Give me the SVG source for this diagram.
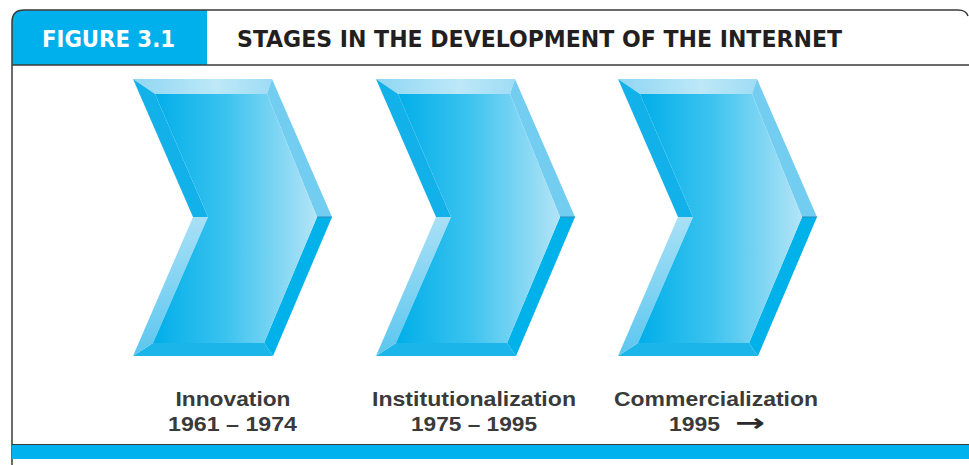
<svg xmlns="http://www.w3.org/2000/svg" width="969" height="465" viewBox="0 0 969 465">
<defs>
<style>
.frame{fill:none;stroke:#3a3a3a;stroke-width:1.5}
.hdr{font-family:"DejaVu Sans Condensed","DejaVu Sans",sans-serif;font-weight:bold;font-size:22.5px}
.lbl{font-family:"Liberation Sans",Arial,"DejaVu Sans",sans-serif;font-weight:bold;font-size:21px;fill:#3a3a3a;text-anchor:middle}
</style>
<linearGradient id="face" x1="0" y1="0" x2="1" y2="0">
<stop offset="0" stop-color="#00aee9"/>
<stop offset="0.45" stop-color="#3cc3ef"/>
<stop offset="1" stop-color="#b3e4f7"/>
</linearGradient>
<linearGradient id="topb" x1="0" y1="0" x2="1" y2="0">
<stop offset="0" stop-color="#8fd6f3"/>
<stop offset="0.6" stop-color="#bde8f8"/>
<stop offset="1" stop-color="#9fdcf5"/>
</linearGradient>
<linearGradient id="lbb" x1="0" y1="1" x2="0" y2="0">
<stop offset="0" stop-color="#5cc6ef"/>
<stop offset="1" stop-color="#a8e0f6"/>
</linearGradient>
<g id="chev">
<polygon points="0,0 139,0 134,15 22,15" fill="url(#topb)"/>
<polygon points="139,0 199,138 184,138 134,15" fill="#72cdf1"/>
<polygon points="199,138 140,277 131,264 184,138" fill="#00b1ea"/>
<polygon points="140,277 0,277 20,264 131,264" fill="#1bb5ea"/>
<polygon points="0,277 60,138 75,138 20,264" fill="url(#lbb)"/>
<polygon points="60,138 0,0 22,15 75,138" fill="#12b1ea"/>
<polygon points="22,15 134,15 184,138 131,264 20,264 75,138" fill="url(#face)"/>
<line x1="184" y1="138" x2="199" y2="138" stroke="#2a8fb8" stroke-width="1"/>
</g>
</defs>
<rect width="969" height="465" fill="#ffffff"/>
<g id="header">
<path d="M12,65 L12,22 Q12,10 24,10 L207,10 L207,65 Z" fill="#00b0ed"/>
<path class="frame" d="M12,465 L12,22 Q12,10 24,10 L958,10 Q966,10 968,16"/>
<line class="frame" x1="12" y1="65" x2="969" y2="65"/>
<text class="hdr" x="42" y="46.5" fill="#ffffff" textLength="133" lengthAdjust="spacingAndGlyphs">FIGURE 3.1</text>
<text class="hdr" x="237" y="46.5" fill="#231f20" textLength="605" lengthAdjust="spacingAndGlyphs">STAGES IN THE DEVELOPMENT OF THE INTERNET</text>
</g>
<g id="stage-innovation">
<use href="#chev" transform="translate(133,79)"/>
<text class="lbl" x="233" y="406" textLength="115" lengthAdjust="spacingAndGlyphs">Innovation</text>
<text class="lbl" x="232.5" y="431" textLength="129" lengthAdjust="spacingAndGlyphs">1961 – 1974</text>
</g>
<g id="stage-institutionalization">
<use href="#chev" transform="translate(376,79)"/>
<text class="lbl" x="474" y="406" textLength="204" lengthAdjust="spacingAndGlyphs">Institutionalization</text>
<text class="lbl" x="474" y="431" textLength="126" lengthAdjust="spacingAndGlyphs">1975 – 1995</text>
</g>
<g id="stage-commercialization">
<use href="#chev" transform="translate(618,79)"/>
<text class="lbl" x="716" y="406" textLength="204" lengthAdjust="spacingAndGlyphs">Commercialization</text>
<text class="lbl" style="text-anchor:start" x="669" y="431"><tspan textLength="51" lengthAdjust="spacingAndGlyphs">1995</tspan><tspan x="735" textLength="30" lengthAdjust="spacingAndGlyphs" style="font-family:'DejaVu Sans',sans-serif;font-size:24px" fill="#2a2a2a">→</tspan></text>
</g>
<g id="footer">
<rect x="12" y="445" width="957" height="14" fill="#00b2ee"/>
<line x1="12" y1="444.5" x2="969" y2="444.5" stroke="#3a3a3a" stroke-width="1.2"/>
</g>
<g id="connectors"></g>
</svg>
